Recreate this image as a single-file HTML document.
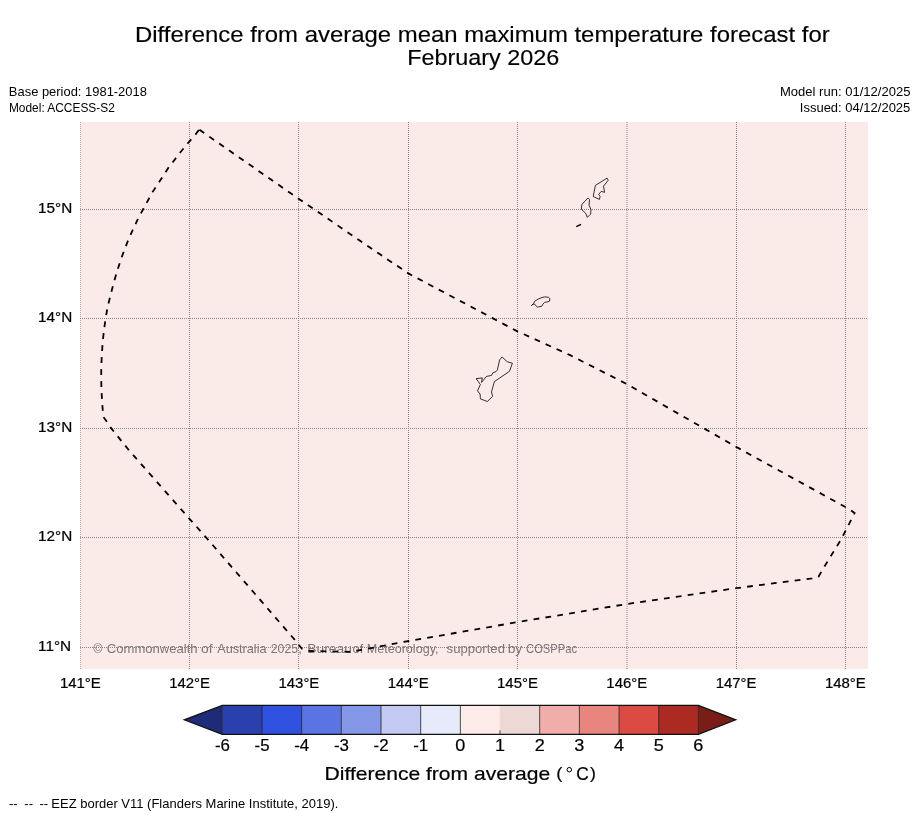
<!DOCTYPE html><html><head><meta charset="utf-8"><style>html,body{margin:0;padding:0;background:#fff;}svg{display:block;will-change:transform}text{font-family:"Liberation Sans",sans-serif;white-space:pre}</style></head><body>
<svg width="919" height="816" viewBox="0 0 919 816">
<rect width="919" height="816" fill="#fff"/>
<text transform="translate(134.99,41.90) scale(1.0878,1)" font-size="22.00" fill="#000" stroke="#000" stroke-width="0.150" >Difference from average mean maximum temperature forecast for</text>
<text transform="translate(407.13,64.85) scale(1.0630,1)" font-size="22.00" fill="#000" stroke="#000" stroke-width="0.150" >February 2026</text>
<text transform="translate(8.86,95.90) scale(1.0613,1)" font-size="12.20" fill="#000" stroke="#000" stroke-width="0.000" >Base period: 1981-2018</text>
<text transform="translate(8.95,111.80) scale(0.9769,1)" font-size="12.20" fill="#000" stroke="#000" stroke-width="0.000" >Model: ACCESS-S2</text>
<text transform="translate(779.96,95.90) scale(1.0702,1)" font-size="12.20" fill="#000" stroke="#000" stroke-width="0.000" >Model run: 01/12/2025</text>
<text transform="translate(799.83,111.80) scale(1.0655,1)" font-size="12.20" fill="#000" stroke="#000" stroke-width="0.000" >Issued: 04/12/2025</text>
<rect x="80" y="122" width="788" height="547" fill="#fbebe8"/>
<text transform="translate(93.35,652.70) scale(1.0187,1)" font-size="12.20" fill="#7a7575" stroke="#7a7575" stroke-width="0.000" >©</text>
<text transform="translate(106.85,652.70) scale(1.0717,1)" font-size="12.20" fill="#7a7575" stroke="#7a7575" stroke-width="0.000" >Commonwealth</text>
<text transform="translate(200.94,652.70) scale(1.1413,1)" font-size="12.20" fill="#7a7575" stroke="#7a7575" stroke-width="0.000" >of</text>
<text transform="translate(217.20,652.70) scale(1.0409,1)" font-size="12.20" fill="#7a7575" stroke="#7a7575" stroke-width="0.000" >Australia</text>
<text transform="translate(270.68,652.70) scale(1.0142,1)" font-size="12.20" fill="#7a7575" stroke="#7a7575" stroke-width="0.000" >2025,</text>
<text transform="translate(307.29,652.70) scale(1.1337,1)" font-size="12.20" fill="#7a7575" stroke="#7a7575" stroke-width="0.000" >Bureau</text>
<text transform="translate(352.59,652.70) scale(1.0479,1)" font-size="12.20" fill="#7a7575" stroke="#7a7575" stroke-width="0.000" >of</text>
<text transform="translate(366.69,652.70) scale(1.0327,1)" font-size="12.20" fill="#7a7575" stroke="#7a7575" stroke-width="0.000" >Meteorology,</text>
<text transform="translate(446.61,652.70) scale(1.0759,1)" font-size="12.20" fill="#7a7575" stroke="#7a7575" stroke-width="0.000" >supported</text>
<text transform="translate(507.63,652.70) scale(1.1375,1)" font-size="12.20" fill="#7a7575" stroke="#7a7575" stroke-width="0.000" >by</text>
<text transform="translate(526.04,652.70) scale(0.9203,1)" font-size="12.20" fill="#7a7575" stroke="#7a7575" stroke-width="0.000" >COSPPac</text>
<line x1="80.5" y1="122" x2="80.5" y2="669" stroke="#8d8383" stroke-width="1" stroke-dasharray="1 1" stroke-opacity="0.6"/>
<line x1="189.5" y1="122" x2="189.5" y2="669" stroke="#8d8383" stroke-width="1" stroke-dasharray="1 1"/>
<line x1="298.5" y1="122" x2="298.5" y2="669" stroke="#8d8383" stroke-width="1" stroke-dasharray="1 1"/>
<line x1="408.5" y1="122" x2="408.5" y2="669" stroke="#8d8383" stroke-width="1" stroke-dasharray="1 1"/>
<line x1="517.5" y1="122" x2="517.5" y2="669" stroke="#8d8383" stroke-width="1" stroke-dasharray="1 1"/>
<line x1="627.0" y1="122" x2="627.0" y2="669" stroke="#8d8383" stroke-width="1" stroke-dasharray="1 1"/>
<line x1="736.5" y1="122" x2="736.5" y2="669" stroke="#8d8383" stroke-width="1" stroke-dasharray="1 1"/>
<line x1="845.5" y1="122" x2="845.5" y2="669" stroke="#8d8383" stroke-width="1" stroke-dasharray="1 1"/>
<line x1="80" y1="209.5" x2="868" y2="209.5" stroke="#8d8383" stroke-width="1" stroke-dasharray="1 1"/>
<line x1="80" y1="318.5" x2="868" y2="318.5" stroke="#8d8383" stroke-width="1" stroke-dasharray="1 1"/>
<line x1="80" y1="428.5" x2="868" y2="428.5" stroke="#8d8383" stroke-width="1" stroke-dasharray="1 1"/>
<line x1="80" y1="537.5" x2="868" y2="537.5" stroke="#8d8383" stroke-width="1" stroke-dasharray="1 1"/>
<line x1="80" y1="647.5" x2="868" y2="647.5" stroke="#8d8383" stroke-width="1" stroke-dasharray="1 1"/>
<path d="M199.2,129.6 L298.5,198.7 L380.0,254.3 L408.3,273.4 L492.1,317.9 L517.4,331.4 L524.0,334.3 L569.6,354.9 L626.7,384.0 L736.2,446.9 L799.0,481.5 L849.7,509.4 L854.6,513.1 L841.1,539.4 L822.5,569.7 L818.4,576.9 L812.2,578.4 L736.5,588.1 L627.0,604.0 L517.0,622.2 L400.0,642.6 L359.0,650.3 L350.0,651.8 L310.3,651.0 L301.9,648.8 L296.2,641.5 L205.8,537.1 L189.5,518.8 L128.9,450.2 L110.9,427.9 L107.0,421.9 L103.6,417.2 L103.0,413.3 L102.1,401.7 L101.4,388.6 L101.2,377.9 L101.3,365.9 L101.9,353.9 L102.7,341.9 L104.0,329.9 L105.6,318.5 L107.7,306.5 L110.7,294.5 L113.7,282.9 L117.2,270.9 L121.5,257.6 L128.3,239.8 L138.2,218.3 L143.8,208.0 L152.5,192.1 L157.2,185.0 L169.0,166.9 L172.7,162.3 L180.0,152.8 L187.7,143.3 L195.6,134.4 L199.2,129.6" fill="none" stroke="#000" stroke-width="1.8" stroke-dasharray="5.8 6.2" stroke-dashoffset="-0.3" stroke-linejoin="miter"/>
<path d="M502.1,357.0 L507.3,361.8 L512.4,363.2 L509.5,371.3 L494.4,381.6 L491.5,391.9 L492.6,396.3 L487.4,401.5 L480.4,398.9 L480.1,394.1 L477.5,390.8 L480.4,384.6 L476.8,379.4 L476.0,378.7 L482.3,377.9 L481.5,382.4 L486.3,376.5 L491.5,375.4 L492.9,372.8 L495.9,371.7 L497.4,369.9 L499.6,359.9Z" fill="none" stroke="#000" stroke-width="0.8"/>
<path d="M531.4,305.5 L533.5,303.7 L534.8,301.1 L538.1,299.1 L542.0,297.5 L544.6,296.9 L548.5,297.3 L549.8,298.5 L549.6,301.1 L547.9,301.8 L544.6,302.4 L543.0,304.0 L541.7,306.3 L537.4,307.1 L535.8,305.7 L534.5,304.0 L532.8,304.4Z" fill="none" stroke="#000" stroke-width="0.8"/>
<path d="M607.1,178.1 L608.2,180.3 L603.5,186.2 L604.6,192.4 L601.3,191.3 L598.7,194.3 L600.1,196.5 L599.4,199.4 L593.2,196.5 L595.4,185.4Z" fill="none" stroke="#000" stroke-width="0.8"/>
<path d="M588.0,197.9 L589.5,199.4 L589.1,205.3 L591.0,209.7 L590.6,214.1 L587.3,217.4 L585.8,213.4 L581.4,209.3 L581.8,204.6Z" fill="none" stroke="#000" stroke-width="0.8"/>
<path d="M576.3,226.6 L581.0,224.4" stroke="#000" stroke-width="1.6"/>
<text transform="translate(38.07,212.70) scale(1.0939,1)" font-size="14.00" fill="#000" stroke="#000" stroke-width="0.200" >15°N</text>
<text transform="translate(38.07,321.85) scale(1.0939,1)" font-size="14.00" fill="#000" stroke="#000" stroke-width="0.200" >14°N</text>
<text transform="translate(38.07,431.85) scale(1.0939,1)" font-size="14.00" fill="#000" stroke="#000" stroke-width="0.200" >13°N</text>
<text transform="translate(38.07,540.80) scale(1.0939,1)" font-size="14.00" fill="#000" stroke="#000" stroke-width="0.200" >12°N</text>
<text transform="translate(38.07,650.80) scale(1.0939,1)" font-size="14.00" fill="#000" stroke="#000" stroke-width="0.200" >11°N</text>
<text transform="translate(59.90,688.00) scale(1.0673,1)" font-size="14.00" fill="#000" stroke="#000" stroke-width="0.200" >141°E</text>
<text transform="translate(169.19,688.00) scale(1.0673,1)" font-size="14.00" fill="#000" stroke="#000" stroke-width="0.200" >142°E</text>
<text transform="translate(278.48,688.00) scale(1.0673,1)" font-size="14.00" fill="#000" stroke="#000" stroke-width="0.200" >143°E</text>
<text transform="translate(387.77,688.00) scale(1.0673,1)" font-size="14.00" fill="#000" stroke="#000" stroke-width="0.200" >144°E</text>
<text transform="translate(497.06,688.00) scale(1.0673,1)" font-size="14.00" fill="#000" stroke="#000" stroke-width="0.200" >145°E</text>
<text transform="translate(606.35,688.00) scale(1.0673,1)" font-size="14.00" fill="#000" stroke="#000" stroke-width="0.200" >146°E</text>
<text transform="translate(715.64,688.00) scale(1.0673,1)" font-size="14.00" fill="#000" stroke="#000" stroke-width="0.200" >147°E</text>
<text transform="translate(824.93,688.00) scale(1.0673,1)" font-size="14.00" fill="#000" stroke="#000" stroke-width="0.200" >148°E</text>
<rect x="222.30" y="705.4" width="39.97" height="28.90" fill="#2a40ad"/>
<rect x="261.98" y="705.4" width="39.97" height="28.90" fill="#3050e0"/>
<rect x="301.65" y="705.4" width="39.97" height="28.90" fill="#5a74e3"/>
<rect x="341.32" y="705.4" width="39.97" height="28.90" fill="#8598e8"/>
<rect x="381.00" y="705.4" width="39.97" height="28.90" fill="#c2c9f3"/>
<rect x="420.68" y="705.4" width="39.97" height="28.90" fill="#e6eafb"/>
<rect x="460.35" y="705.4" width="39.97" height="28.90" fill="#fcebe8"/>
<rect x="500.02" y="705.4" width="39.97" height="28.90" fill="#edd8d6"/>
<rect x="539.70" y="705.4" width="39.97" height="28.90" fill="#f0adaa"/>
<rect x="579.38" y="705.4" width="39.97" height="28.90" fill="#e8857f"/>
<rect x="619.05" y="705.4" width="39.97" height="28.90" fill="#dc4b43"/>
<rect x="658.72" y="705.4" width="39.97" height="28.90" fill="#ab2a22"/>
<path d="M222.30,705.4 L184.2,719.85 L222.30,734.3 Z" fill="#1d2b78"/>
<path d="M698.40,705.4 L735.8,719.85 L698.40,734.3 Z" fill="#7a1c17"/>
<line x1="261.98" y1="705.4" x2="261.98" y2="734.3" stroke="#222" stroke-width="0.8"/>
<line x1="301.65" y1="705.4" x2="301.65" y2="734.3" stroke="#222" stroke-width="0.8"/>
<line x1="341.32" y1="705.4" x2="341.32" y2="734.3" stroke="#222" stroke-width="0.8"/>
<line x1="381.00" y1="705.4" x2="381.00" y2="734.3" stroke="#222" stroke-width="0.8"/>
<line x1="420.68" y1="705.4" x2="420.68" y2="734.3" stroke="#222" stroke-width="0.8"/>
<line x1="460.35" y1="705.4" x2="460.35" y2="734.3" stroke="#222" stroke-width="0.8"/>
<line x1="500.02" y1="705.4" x2="500.02" y2="734.3" stroke="#f6dedb" stroke-width="0.8"/>
<line x1="500.02" y1="730.3" x2="500.02" y2="734.3" stroke="#222" stroke-width="0.8"/>
<line x1="539.70" y1="705.4" x2="539.70" y2="734.3" stroke="#222" stroke-width="0.8"/>
<line x1="579.38" y1="705.4" x2="579.38" y2="734.3" stroke="#222" stroke-width="0.8"/>
<line x1="619.05" y1="705.4" x2="619.05" y2="734.3" stroke="#222" stroke-width="0.8"/>
<line x1="658.72" y1="705.4" x2="658.72" y2="734.3" stroke="#222" stroke-width="0.8"/>
<line x1="222.30" y1="705.4" x2="222.30" y2="734.3" stroke="#222" stroke-width="0.8"/>
<line x1="698.40" y1="705.4" x2="698.40" y2="734.3" stroke="#222" stroke-width="0.8"/>
<path d="M222.30,705.4 L698.40,705.4 L735.8,719.85 L698.40,734.3 L222.30,734.3 L184.2,719.85 Z" fill="none" stroke="#111" stroke-width="1.2"/>
<text transform="translate(214.88,750.90) scale(1.0045,1)" font-size="16.80" fill="#000" stroke="#000" stroke-width="0.200" >-6</text>
<text transform="translate(254.55,750.90) scale(1.0045,1)" font-size="16.80" fill="#000" stroke="#000" stroke-width="0.200" >-5</text>
<text transform="translate(294.22,750.90) scale(1.0045,1)" font-size="16.80" fill="#000" stroke="#000" stroke-width="0.200" >-4</text>
<text transform="translate(333.90,750.90) scale(1.0045,1)" font-size="16.80" fill="#000" stroke="#000" stroke-width="0.200" >-3</text>
<text transform="translate(373.57,750.90) scale(1.0045,1)" font-size="16.80" fill="#000" stroke="#000" stroke-width="0.200" >-2</text>
<text transform="translate(413.25,750.90) scale(1.0045,1)" font-size="16.80" fill="#000" stroke="#000" stroke-width="0.200" >-1</text>
<text transform="translate(455.30,750.90) scale(1.0740,1)" font-size="16.80" fill="#000" stroke="#000" stroke-width="0.200" >0</text>
<text transform="translate(494.97,750.90) scale(1.0740,1)" font-size="16.80" fill="#000" stroke="#000" stroke-width="0.200" >1</text>
<text transform="translate(534.65,750.90) scale(1.0740,1)" font-size="16.80" fill="#000" stroke="#000" stroke-width="0.200" >2</text>
<text transform="translate(574.32,750.90) scale(1.0740,1)" font-size="16.80" fill="#000" stroke="#000" stroke-width="0.200" >3</text>
<text transform="translate(614.00,750.90) scale(1.0740,1)" font-size="16.80" fill="#000" stroke="#000" stroke-width="0.200" >4</text>
<text transform="translate(653.67,750.90) scale(1.0740,1)" font-size="16.80" fill="#000" stroke="#000" stroke-width="0.200" >5</text>
<text transform="translate(693.35,750.90) scale(1.0740,1)" font-size="16.80" fill="#000" stroke="#000" stroke-width="0.200" >6</text>
<text transform="translate(324.51,779.80) scale(1.1976,1)" font-size="17.60" fill="#000" stroke="#000" stroke-width="0.200" >Difference from average</text>
<text transform="translate(556.29,778.76) scale(0.1846,0.1734)" font-size="100" fill="#000" stroke="#000" stroke-width="1.117" >(</text>
<circle cx="569.3" cy="769.7" r="2.25" fill="none" stroke="#000" stroke-width="1.0"/>
<text transform="translate(576.13,779.62) scale(0.1730,0.1775)" font-size="100" fill="#000" stroke="#000" stroke-width="1.141" >C</text>
<text transform="translate(590.12,778.76) scale(0.1769,0.1734)" font-size="100" fill="#000" stroke="#000" stroke-width="1.142" >)</text>
<text transform="translate(8.98,807.60) scale(1.0741,1)" font-size="12.20" fill="#000" stroke="#000" stroke-width="0.000" >--</text>
<text transform="translate(24.28,807.60) scale(1.0741,1)" font-size="12.20" fill="#000" stroke="#000" stroke-width="0.000" >--</text>
<text transform="translate(39.48,807.60) scale(1.0741,1)" font-size="12.20" fill="#000" stroke="#000" stroke-width="0.000" >--</text>
<text transform="translate(51.36,807.60) scale(1.0652,1)" font-size="12.20" fill="#000" stroke="#000" stroke-width="0.000" >EEZ border V11 (Flanders Marine Institute, 2019).</text>
</svg></body></html>
